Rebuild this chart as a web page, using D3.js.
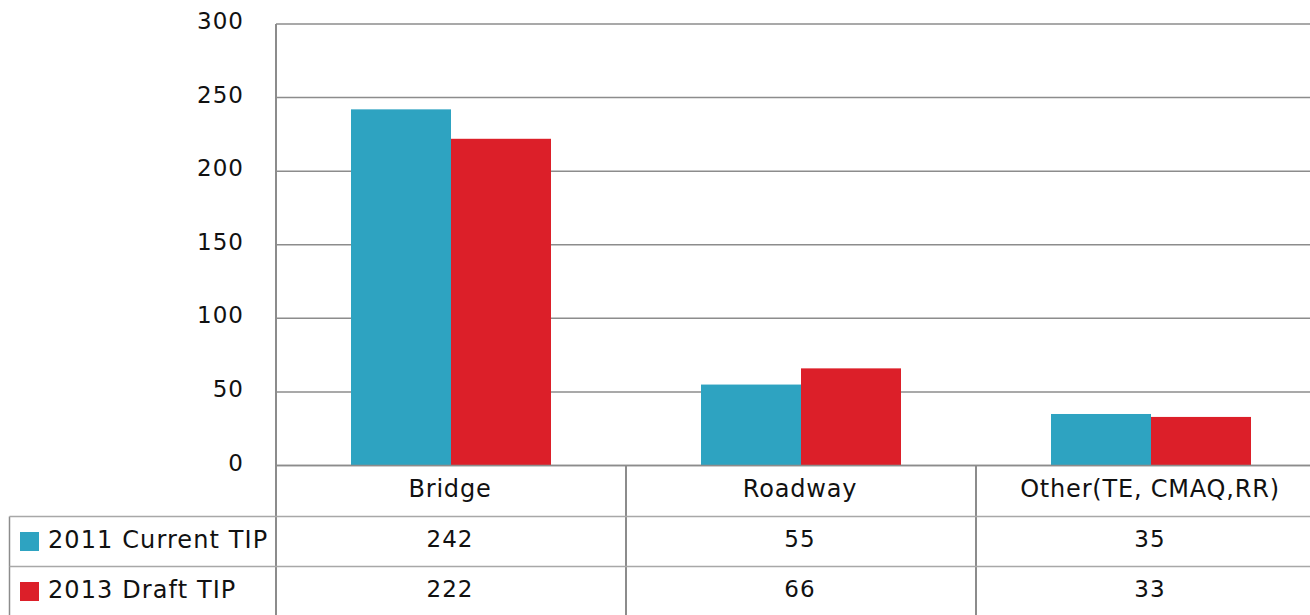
<!DOCTYPE html>
<html><head><meta charset="utf-8">
<script src="https://cdn.jsdelivr.net/npm/d3@7"></script>
<style>body{margin:0;background:#fff}svg{display:block}text{font-family:"DejaVu Sans",sans-serif;fill:#111}</style>
</head><body><svg id="c" width="1310" height="615"></svg>
<script>
const categories = ["Bridge", "Roadway", "Other(TE, CMAQ,RR)"];
const seriesNames = ["2011 Current TIP", "2013 Draft TIP"];
const values2011 = [242, 55, 35];
const values2013 = [222, 66, 33];
const yTicks = [0, 50, 100, 150, 200, 250, 300];
const colors = ["#2ea3c1", "#dc1f29"];

const svg = d3.select("#c");
const plotLeft = 276, plotTop = 24, zeroY = 465.5, bandW = 350;
const x = d3.scaleBand().domain(categories).range([plotLeft, plotLeft + bandW * categories.length]);
const inner = d3.scaleBand().domain(seriesNames).range([0, x.bandwidth()]).paddingOuter(0.75).paddingInner(0);
const y = d3.scaleLinear().domain([0, 300]).range([zeroY, plotTop]);
const gridColor = "#8c8c8c";

svg.append("g").selectAll("line").data(yTicks).join("line")
  .attr("x1", plotLeft).attr("x2", 1310).attr("y1", d => y(d)).attr("y2", d => y(d))
  .attr("stroke", gridColor).attr("stroke-width", 1.5);
svg.append("g").selectAll("text").data(yTicks).join("text")
  .attr("x", 244).attr("y", d => y(d) + 5).attr("text-anchor", "end")
  .attr("font-size", 23).attr("letter-spacing", 1).text(d => d);

const series = [values2011, values2013];
series.forEach((vals, si) => {
  svg.append("g").selectAll("rect").data(categories).join("rect")
    .attr("x", c => x(c) + inner(seriesNames[si]))
    .attr("width", inner.bandwidth())
    .attr("y", (c, i) => y(vals[i]))
    .attr("height", (c, i) => zeroY - y(vals[i]))
    .attr("fill", colors[si]);
});
svg.append("line").attr("x1", plotLeft).attr("x2", 1310).attr("y1", zeroY).attr("y2", zeroY)
  .attr("stroke", gridColor).attr("stroke-width", 1.5);
svg.append("line").attr("x1", plotLeft).attr("x2", plotLeft).attr("y1", plotTop).attr("y2", 615)
  .attr("stroke", gridColor).attr("stroke-width", 2);

const rowY = [465.5, 516.5, 566.5, 616.5];
const tableLeft = 9.5;
categories.forEach((c, i) => {
  if (i > 0) svg.append("line").attr("x1", x(c)).attr("x2", x(c)).attr("y1", zeroY).attr("y2", 615)
    .attr("stroke", gridColor).attr("stroke-width", 2);
});
svg.append("line").attr("x1", tableLeft).attr("x2", tableLeft).attr("y1", rowY[1]).attr("y2", 615)
  .attr("stroke", gridColor).attr("stroke-width", 1.5);
[rowY[1], rowY[2]].forEach(yy => svg.append("line").attr("x1", tableLeft).attr("x2", 1310)
  .attr("y1", yy).attr("y2", yy).attr("stroke", "#a8a8a8").attr("stroke-width", 1.5));

svg.append("g").selectAll("text").data(categories).join("text")
  .attr("x", c => x(c) + x.bandwidth() / 2 - 1).attr("y", 497).attr("text-anchor", "middle")
  .attr("font-size", 24).attr("letter-spacing", 0.8).text(c => c);

series.forEach((vals, si) => {
  const cy = (rowY[si + 1] + rowY[si + 2]) / 2;
  svg.append("rect").attr("x", 20).attr("y", cy - 9.5).attr("width", 19).attr("height", 19).attr("fill", colors[si]);
  svg.append("text").attr("x", 48).attr("y", cy + 6).attr("font-size", 24).attr("letter-spacing", 1.1).text(seriesNames[si]);
  svg.append("g").selectAll("text").data(categories).join("text")
    .attr("x", c => x(c) + x.bandwidth() / 2 - 1).attr("y", cy + 5).attr("text-anchor", "middle")
    .attr("font-size", 23).attr("letter-spacing", 1).text((c, i) => vals[i]);
});
</script></body></html>
